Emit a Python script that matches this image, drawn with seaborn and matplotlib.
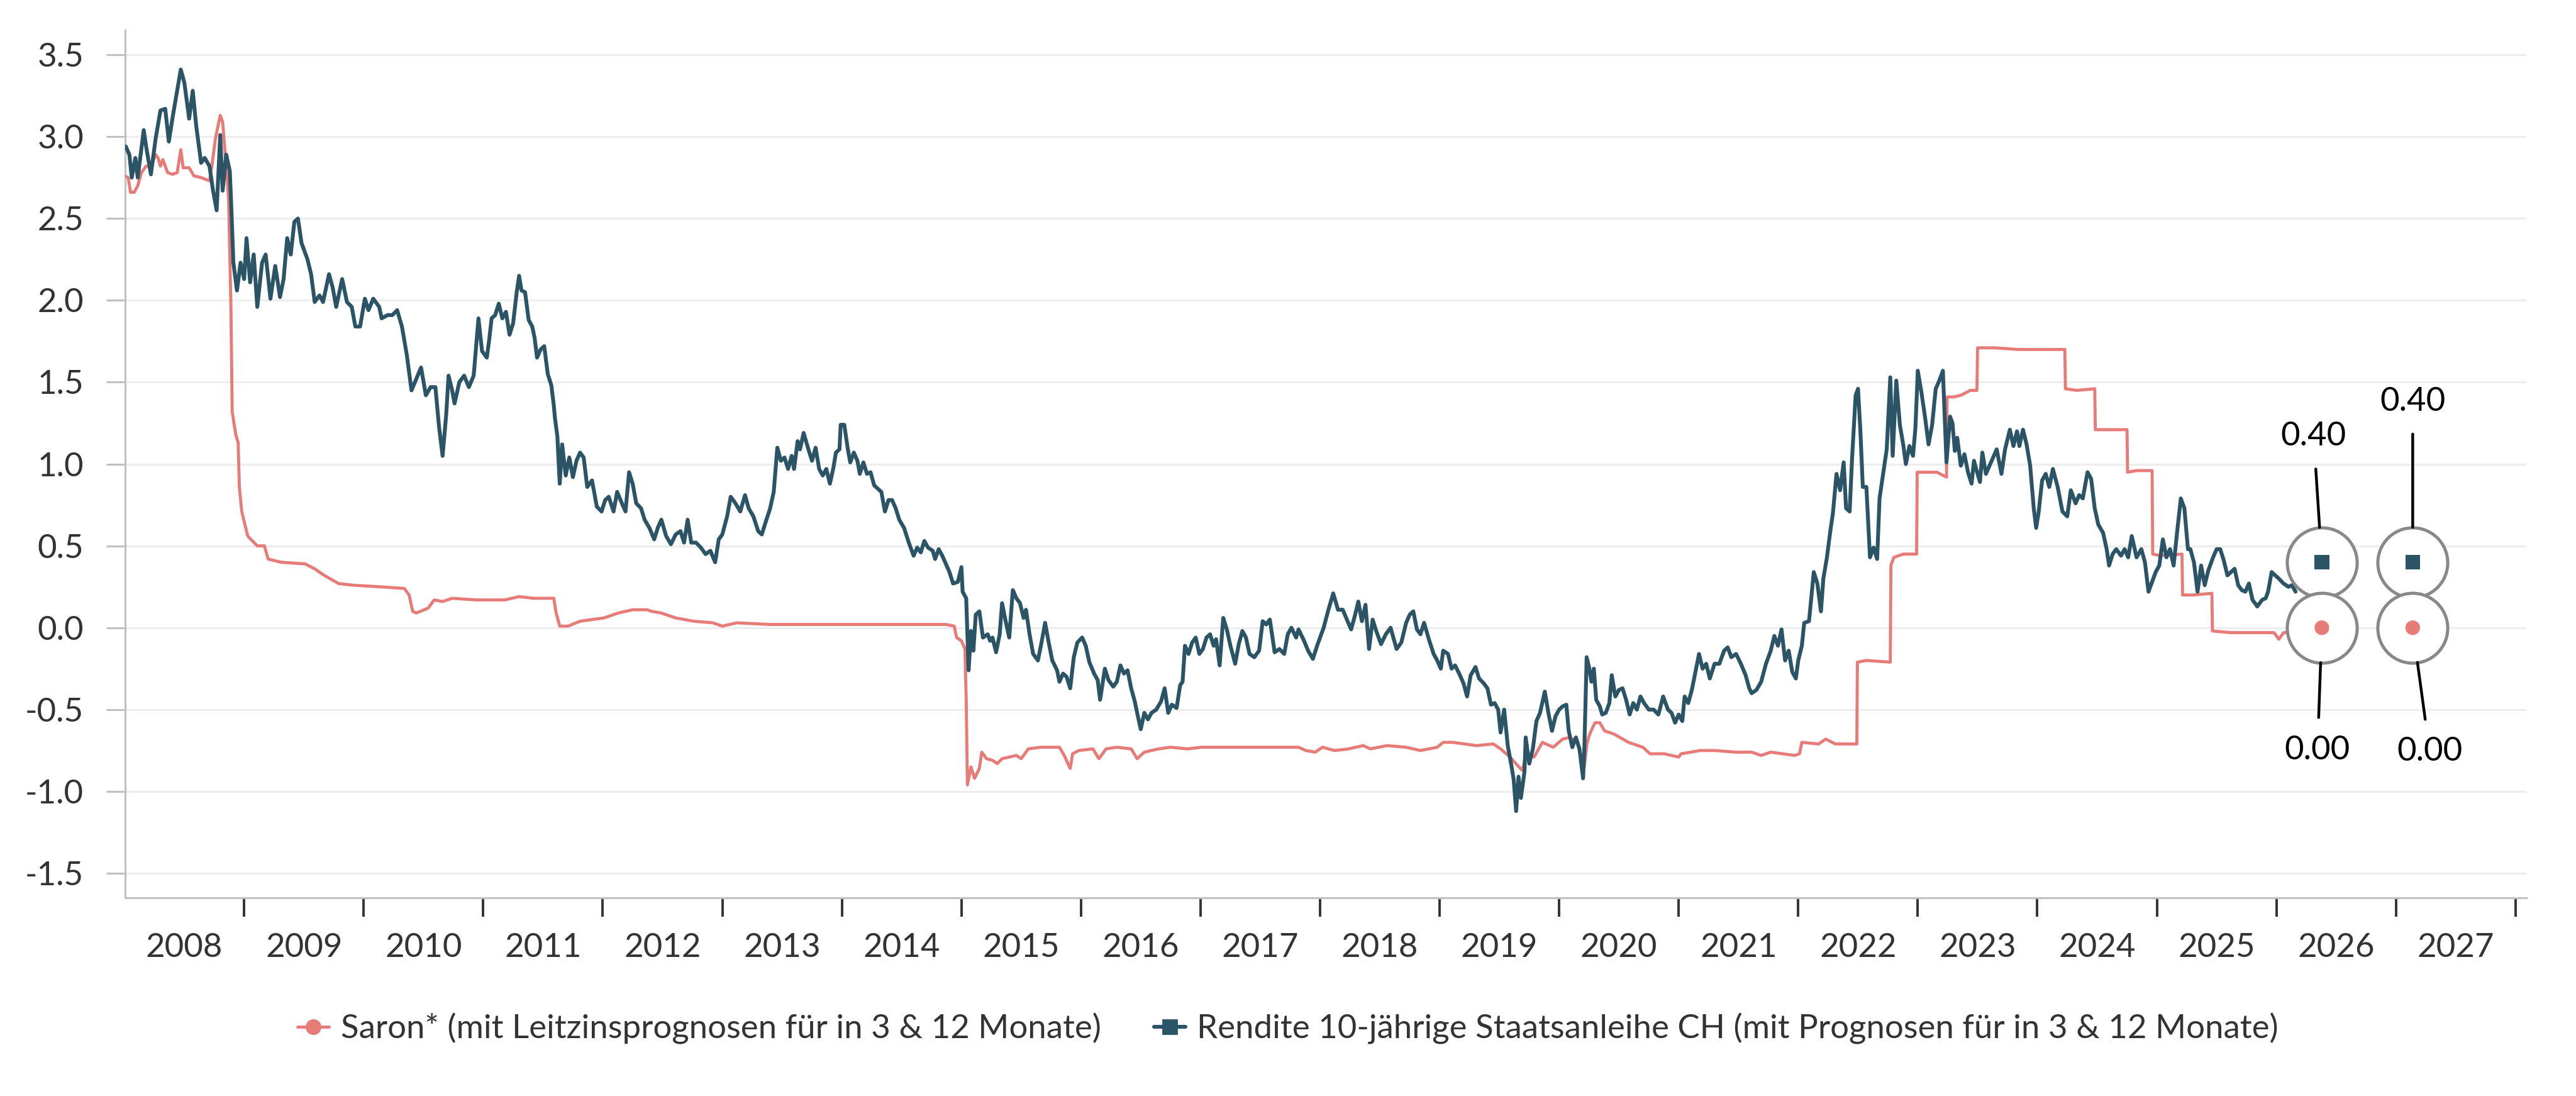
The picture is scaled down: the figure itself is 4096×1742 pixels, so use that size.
import numpy as np
import pandas as pd
import matplotlib.pyplot as plt
import seaborn as sns
from matplotlib.lines import Line2D

sns.set_theme(style="white")
plt.rcParams['font.family'] = ['Lato', 'DejaVu Sans']
plt.rcParams['axes.unicode_minus'] = False

BOND_COLOR = '#2B5566'
SARON_COLOR = '#E67B77'
TEXT_COLOR = '#333333'

# === DATA (decimal years) ===

bond_years = [
    2008.01, 2008.04, 2008.06, 2008.09, 2008.11, 2008.16, 2008.18, 2008.22, 2008.26, 2008.30,
    2008.34, 2008.37, 2008.40, 2008.43, 2008.47, 2008.50, 2008.54, 2008.57, 2008.60, 2008.64,
    2008.67, 2008.71, 2008.74, 2008.77, 2008.80, 2008.82, 2008.85, 2008.88, 2008.89, 2008.91,
    2008.94, 2008.97, 2009.00, 2009.02, 2009.05, 2009.08, 2009.11, 2009.15, 2009.18, 2009.22,
    2009.26, 2009.30, 2009.33, 2009.36, 2009.39, 2009.42, 2009.45, 2009.48, 2009.53, 2009.56,
    2009.59, 2009.63, 2009.66, 2009.71, 2009.74, 2009.77, 2009.82, 2009.86, 2009.90, 2009.93,
    2009.97, 2010.01, 2010.04, 2010.08, 2010.13, 2010.15, 2010.20, 2010.24, 2010.28, 2010.32,
    2010.36, 2010.40, 2010.44, 2010.48, 2010.52, 2010.56, 2010.60, 2010.63, 2010.66, 2010.69,
    2010.71, 2010.74, 2010.76, 2010.80, 2010.84, 2010.88, 2010.92, 2010.96, 2010.99,
    2011.03, 2011.05, 2011.07, 2011.10, 2011.13, 2011.16, 2011.19, 2011.22, 2011.25, 2011.28,
    2011.30, 2011.32, 2011.35, 2011.38, 2011.41, 2011.43, 2011.45, 2011.48, 2011.51, 2011.54,
    2011.57, 2011.59, 2011.60, 2011.62, 2011.64, 2011.66, 2011.69, 2011.72, 2011.75, 2011.78,
    2011.81, 2011.84, 2011.87, 2011.91, 2011.95, 2011.99, 2012.02, 2012.05, 2012.09, 2012.12,
    2012.16, 2012.19, 2012.22, 2012.25, 2012.28, 2012.32, 2012.35, 2012.39, 2012.43, 2012.46,
    2012.49, 2012.53, 2012.57, 2012.61, 2012.65, 2012.68, 2012.71, 2012.74, 2012.78, 2012.82,
    2012.86, 2012.90, 2012.94, 2012.97, 2013.00, 2013.04, 2013.07, 2013.11, 2013.15, 2013.19,
    2013.22, 2013.26, 2013.30, 2013.33, 2013.36, 2013.40, 2013.43, 2013.46, 2013.49, 2013.52,
    2013.55, 2013.58, 2013.60, 2013.63, 2013.65, 2013.68, 2013.72, 2013.75, 2013.78, 2013.81,
    2013.84, 2013.87, 2013.90, 2013.93, 2013.95, 2013.98, 2013.99, 2014.02, 2014.05,
    2014.07, 2014.10, 2014.13, 2014.15, 2014.18, 2014.21, 2014.24, 2014.27, 2014.30, 2014.33,
    2014.36, 2014.39, 2014.42, 2014.45, 2014.48, 2014.52, 2014.56, 2014.60, 2014.63, 2014.66,
    2014.69, 2014.72, 2014.76, 2014.78, 2014.81, 2014.84, 2014.87, 2014.90, 2014.93, 2014.97,
    2015.00, 2015.01, 2015.04, 2015.06, 2015.08, 2015.10, 2015.12, 2015.15, 2015.18, 2015.22,
    2015.24, 2015.26, 2015.29, 2015.32, 2015.34, 2015.37, 2015.40, 2015.43, 2015.46, 2015.49,
    2015.52, 2015.54, 2015.57, 2015.60, 2015.64, 2015.67, 2015.70, 2015.73, 2015.76, 2015.80,
    2015.82, 2015.85, 2015.88, 2015.91, 2015.94, 2015.97, 2016.01, 2016.04, 2016.07, 2016.11,
    2016.14, 2016.16, 2016.20, 2016.23, 2016.27, 2016.30, 2016.33, 2016.36, 2016.39, 2016.42,
    2016.45, 2016.47, 2016.50, 2016.53, 2016.56, 2016.59, 2016.63, 2016.67, 2016.70, 2016.73,
    2016.76, 2016.80, 2016.83, 2016.85, 2016.87, 2016.90, 2016.93, 2016.96, 2016.99, 2017.02,
    2017.05, 2017.08, 2017.11,
    2017.13, 2017.16, 2017.19, 2017.22, 2017.25, 2017.29, 2017.32, 2017.35, 2017.38, 2017.41,
    2017.45, 2017.49, 2017.52, 2017.55, 2017.58, 2017.62, 2017.66, 2017.70, 2017.73, 2017.76,
    2017.80, 2017.82, 2017.86, 2017.90, 2017.94, 2017.98, 2018.03, 2018.07, 2018.11, 2018.15,
    2018.19, 2018.23, 2018.26, 2018.29, 2018.32, 2018.35, 2018.38, 2018.41, 2018.44, 2018.47,
    2018.51, 2018.55, 2018.59, 2018.64, 2018.68, 2018.72, 2018.75, 2018.78, 2018.81, 2018.84,
    2018.87, 2018.91, 2018.95, 2018.98, 2019.01, 2019.03, 2019.07, 2019.10, 2019.13, 2019.17,
    2019.20, 2019.23, 2019.26, 2019.30, 2019.33, 2019.37, 2019.40, 2019.43, 2019.46, 2019.49,
    2019.51, 2019.54, 2019.57, 2019.60, 2019.62, 2019.64, 2019.66, 2019.68, 2019.71, 2019.72,
    2019.75, 2019.78, 2019.81, 2019.84, 2019.88, 2019.91, 2019.94, 2019.97, 2020.00, 2020.03,
    2020.06, 2020.08, 2020.11, 2020.14, 2020.17, 2020.20, 2020.21,
    2020.23, 2020.25, 2020.27, 2020.29, 2020.31, 2020.34, 2020.36, 2020.39, 2020.42, 2020.44,
    2020.47, 2020.50, 2020.53, 2020.56, 2020.59, 2020.62, 2020.65, 2020.68, 2020.71, 2020.75,
    2020.79, 2020.83, 2020.87, 2020.91, 2020.94, 2020.97, 2021.00, 2021.03, 2021.05, 2021.08,
    2021.11, 2021.14, 2021.17, 2021.20, 2021.23, 2021.26, 2021.30, 2021.34, 2021.38, 2021.41,
    2021.44, 2021.48, 2021.52, 2021.56, 2021.59, 2021.61, 2021.65, 2021.69, 2021.73, 2021.77,
    2021.80, 2021.83, 2021.86, 2021.89, 2021.92, 2021.95, 2021.98, 2022.00, 2022.03, 2022.05,
    2022.09, 2022.13, 2022.16, 2022.19, 2022.21, 2022.24, 2022.27, 2022.29, 2022.32, 2022.35,
    2022.38, 2022.40, 2022.43, 2022.45, 2022.48, 2022.50, 2022.52, 2022.54, 2022.57, 2022.60,
    2022.63, 2022.66, 2022.68, 2022.71, 2022.74, 2022.77, 2022.79, 2022.82, 2022.85, 2022.88,
    2022.90, 2022.93, 2022.96, 2022.98, 2023.00, 2023.03, 2023.06, 2023.09, 2023.12, 2023.15,
    2023.18, 2023.21, 2023.24,
    2023.27, 2023.29, 2023.31, 2023.33, 2023.36, 2023.39, 2023.42, 2023.45, 2023.47, 2023.50,
    2023.52, 2023.54, 2023.57, 2023.60, 2023.63, 2023.66, 2023.70, 2023.73, 2023.77, 2023.80,
    2023.83, 2023.85, 2023.88, 2023.91, 2023.94, 2023.97, 2023.99, 2024.01, 2024.04, 2024.07,
    2024.10, 2024.13, 2024.17, 2024.21, 2024.25, 2024.28, 2024.32, 2024.35, 2024.38, 2024.42,
    2024.45, 2024.48, 2024.51, 2024.55, 2024.58, 2024.60, 2024.63, 2024.66, 2024.70, 2024.73,
    2024.76, 2024.79, 2024.83, 2024.87, 2024.90, 2024.93, 2024.96, 2024.99, 2025.02, 2025.05,
    2025.08, 2025.11, 2025.14, 2025.17, 2025.20, 2025.23, 2025.26, 2025.28, 2025.31, 2025.34,
    2025.37, 2025.40, 2025.43, 2025.47, 2025.50, 2025.53, 2025.56, 2025.59, 2025.62, 2025.65,
    2025.68, 2025.71, 2025.74, 2025.77, 2025.80, 2025.84, 2025.88, 2025.91, 2025.93, 2025.96,
    2025.99, 2026.02, 2026.06, 2026.10, 2026.13, 2026.16,
]
bond_values = [
    2.94, 2.89, 2.75, 2.87, 2.75, 3.04, 2.94, 2.77, 2.99, 3.16,
    3.17, 2.97, 3.11, 3.24, 3.41, 3.33, 3.11, 3.28, 3.06, 2.84,
    2.87, 2.82, 2.67, 2.55, 3.01, 2.67, 2.89, 2.79, 2.62, 2.23,
    2.06, 2.23, 2.13, 2.38, 2.11, 2.28, 1.96, 2.23, 2.28, 2.01,
    2.21, 2.02, 2.13, 2.38, 2.28, 2.48, 2.50, 2.35, 2.25, 2.16,
    1.99, 2.03, 1.99, 2.16, 2.08, 1.96, 2.13, 1.99, 1.96, 1.84,
    1.84, 2.01, 1.94, 2.01, 1.96, 1.89, 1.91, 1.91, 1.94, 1.84,
    1.67, 1.45, 1.52, 1.59, 1.42, 1.47, 1.47, 1.23, 1.05, 1.30,
    1.54, 1.45, 1.37, 1.50, 1.54, 1.47, 1.54, 1.89, 1.69,
    1.65, 1.76, 1.89, 1.91, 1.98, 1.89, 1.93, 1.79, 1.86, 2.05,
    2.15, 2.06, 2.05, 1.88, 1.84, 1.77, 1.65, 1.70, 1.72, 1.55,
    1.48, 1.36, 1.28, 1.17, 0.88, 1.12, 0.93, 1.04, 0.92, 1.02,
    1.07, 1.04, 0.86, 0.90, 0.74, 0.71, 0.78, 0.80, 0.71, 0.83,
    0.76, 0.71, 0.95, 0.88, 0.76, 0.73, 0.66, 0.61, 0.54, 0.61,
    0.66, 0.56, 0.51, 0.57, 0.59, 0.52, 0.66, 0.52, 0.52, 0.49,
    0.45, 0.47, 0.40, 0.54, 0.57, 0.68, 0.80, 0.76, 0.71, 0.81,
    0.73, 0.68, 0.59, 0.57, 0.64, 0.73, 0.83, 1.10, 1.02, 1.04,
    0.97, 1.05, 0.97, 1.14, 1.09, 1.19, 1.09, 1.02, 1.10, 0.97,
    0.93, 0.97, 0.88, 0.98, 1.07, 1.09, 1.24, 1.24, 1.09,
    1.01, 1.07, 1.02, 0.94, 1.01, 0.94, 0.95, 0.87, 0.85, 0.83,
    0.71, 0.78, 0.78, 0.73, 0.66, 0.61, 0.52, 0.44, 0.49, 0.46,
    0.53, 0.49, 0.47, 0.42, 0.48, 0.44, 0.39, 0.34, 0.27, 0.28,
    0.37, 0.22, 0.18, -0.26, -0.02, -0.14, 0.08, 0.10, -0.06, -0.04,
    -0.08, -0.06, -0.15, -0.04, 0.15, 0.04, -0.06, 0.23, 0.18, 0.15,
    0.06, 0.11, -0.04, -0.16, -0.20, -0.09, 0.03, -0.09, -0.20, -0.26,
    -0.33, -0.28, -0.30, -0.37, -0.18, -0.09, -0.06, -0.11, -0.21, -0.28,
    -0.32, -0.44, -0.25, -0.32, -0.36, -0.33, -0.23, -0.28, -0.26, -0.37,
    -0.45, -0.52, -0.62, -0.52, -0.56, -0.52, -0.50, -0.45, -0.37, -0.52,
    -0.47, -0.49, -0.35, -0.33, -0.11, -0.16, -0.09, -0.06, -0.16, -0.13,
    -0.06, -0.04, -0.11,
    -0.07, -0.23, 0.06, -0.01, -0.11, -0.22, -0.10, -0.02, -0.06, -0.16,
    -0.18, -0.14, 0.04, 0.02, 0.05, -0.15, -0.13, -0.16, -0.04, 0.00,
    -0.06, -0.01, -0.07, -0.14, -0.19, -0.10, 0.00, 0.11, 0.21, 0.11,
    0.11, 0.04, -0.01, 0.07, 0.16, 0.04, 0.14, -0.13, 0.05, -0.02,
    -0.10, -0.04, 0.00, -0.13, -0.09, 0.03, 0.08, 0.10, -0.01, -0.04,
    0.03, -0.07, -0.16, -0.20, -0.25, -0.14, -0.16, -0.25, -0.23, -0.29,
    -0.34, -0.42, -0.29, -0.24, -0.31, -0.34, -0.37, -0.47, -0.46, -0.50,
    -0.64, -0.50, -0.72, -0.84, -0.93, -1.12, -0.91, -1.04, -0.88, -0.67,
    -0.83, -0.74, -0.57, -0.52, -0.39, -0.52, -0.63, -0.54, -0.50, -0.48,
    -0.47, -0.63, -0.73, -0.67, -0.74, -0.92, -0.76,
    -0.18, -0.24, -0.33, -0.25, -0.44, -0.48, -0.53, -0.52, -0.46, -0.29,
    -0.42, -0.38, -0.37, -0.44, -0.53, -0.46, -0.50, -0.42, -0.46, -0.50,
    -0.50, -0.53, -0.42, -0.50, -0.52, -0.58, -0.53, -0.57, -0.42, -0.46,
    -0.38, -0.27, -0.16, -0.25, -0.22, -0.31, -0.22, -0.22, -0.14, -0.12,
    -0.18, -0.16, -0.22, -0.29, -0.37, -0.40, -0.38, -0.33, -0.22, -0.14,
    -0.05, -0.11, -0.01, -0.20, -0.14, -0.27, -0.31, -0.20, -0.11, 0.03,
    0.04, 0.34, 0.27, 0.10, 0.30, 0.43, 0.60, 0.70, 0.94, 0.84,
    1.01, 0.73, 0.71, 1.03, 1.42, 1.46, 1.20, 0.86, 0.86, 0.43,
    0.49, 0.42, 0.79, 0.94, 1.09, 1.53, 1.05, 1.51, 1.24, 1.11,
    1.00, 1.11, 1.05, 1.22, 1.57, 1.44, 1.29, 1.12, 1.24, 1.46,
    1.51, 1.57, 1.01,
    1.29, 1.25, 1.08, 1.16, 0.99, 1.06, 0.95, 0.88, 1.02, 0.94,
    0.89, 1.07, 0.94, 0.99, 1.04, 1.09, 0.94, 1.09, 1.21, 1.11,
    1.20, 1.11, 1.21, 1.12, 0.99, 0.73, 0.61, 0.70, 0.90, 0.94,
    0.86, 0.97, 0.86, 0.71, 0.68, 0.84, 0.76, 0.81, 0.79, 0.95,
    0.91, 0.73, 0.63, 0.58, 0.48, 0.38, 0.45, 0.48, 0.44, 0.48,
    0.43, 0.56, 0.43, 0.48, 0.40, 0.22, 0.28, 0.34, 0.38, 0.54,
    0.43, 0.48, 0.38, 0.59, 0.79, 0.73, 0.48, 0.48, 0.40, 0.22,
    0.38, 0.26, 0.35, 0.43, 0.48, 0.48, 0.41, 0.32, 0.34, 0.36,
    0.26, 0.23, 0.22, 0.27, 0.17, 0.13, 0.17, 0.18, 0.22, 0.34,
    0.32, 0.30, 0.27, 0.25, 0.26, 0.22,
]

saron_years = [
    2008.00, 2008.03, 2008.05, 2008.08, 2008.11, 2008.14, 2008.18, 2008.22, 2008.26, 2008.28,
    2008.30, 2008.32, 2008.36, 2008.40, 2008.44, 2008.47, 2008.49, 2008.54, 2008.58, 2008.64,
    2008.71, 2008.73, 2008.76, 2008.80, 2008.82, 2008.85, 2008.87, 2008.89, 2008.90, 2008.93,
    2008.95, 2008.96, 2008.98, 2009.03, 2009.11, 2009.17, 2009.20, 2009.31, 2009.51, 2009.59,
    2009.67, 2009.79, 2009.91, 2010.14, 2010.34, 2010.38, 2010.41, 2010.44, 2010.54, 2010.59,
    2010.66, 2010.74, 2010.94,
    2011.18, 2011.30, 2011.42, 2011.59, 2011.61, 2011.64, 2011.71, 2011.81, 2011.91, 2012.01,
    2012.13, 2012.25, 2012.37, 2012.41, 2012.49, 2012.61, 2012.76, 2012.92, 2013.00, 2013.12,
    2013.40, 2013.80,
    2014.07, 2014.27, 2014.63, 2014.87, 2014.94, 2014.96, 2015.00, 2015.03, 2015.04, 2015.05,
    2015.08, 2015.11, 2015.15, 2015.17, 2015.21, 2015.26, 2015.30, 2015.34, 2015.46, 2015.50,
    2015.56, 2015.66, 2015.82, 2015.86, 2015.91, 2015.93, 2015.98, 2016.10, 2016.15, 2016.21,
    2016.30, 2016.42, 2016.47, 2016.53, 2016.65, 2016.75, 2016.89, 2017.01,
    2017.33, 2017.53, 2017.82, 2017.88, 2017.96, 2018.02, 2018.12, 2018.24, 2018.36, 2018.42,
    2018.56, 2018.72, 2018.84, 2018.98, 2019.03, 2019.11, 2019.21, 2019.31, 2019.45, 2019.51,
    2019.59, 2019.65, 2019.69, 2019.73, 2019.79, 2019.86, 2019.95, 2020.03, 2020.09, 2020.15,
    2020.20,
    2020.21, 2020.23, 2020.25, 2020.28, 2020.30, 2020.34, 2020.38, 2020.46, 2020.58, 2020.70,
    2020.76, 2020.88, 2021.00, 2021.02, 2021.18, 2021.30, 2021.48, 2021.61, 2021.69, 2021.77,
    2021.97, 2022.01, 2022.03, 2022.17, 2022.23, 2022.31, 2022.49, 2022.495, 2022.57, 2022.77,
    2022.775, 2022.80, 2022.88, 2022.99, 2022.995, 2023.04, 2023.16, 2023.24, 2023.245,
    2023.30, 2023.36, 2023.44, 2023.495, 2023.50, 2023.64, 2023.84, 2024.04, 2024.23, 2024.235,
    2024.33, 2024.48, 2024.485, 2024.63, 2024.75, 2024.755, 2024.83, 2024.96, 2024.965, 2025.03,
    2025.21, 2025.215, 2025.30, 2025.46, 2025.465, 2025.62, 2025.82, 2025.98, 2026.02, 2026.06,
    2026.10, 2026.16,
]
saron_values = [
    2.76, 2.75, 2.66, 2.66, 2.70, 2.78, 2.82, 2.82, 2.89, 2.87,
    2.82, 2.86, 2.78, 2.77, 2.78, 2.92, 2.81, 2.81, 2.76, 2.75,
    2.73, 2.82, 2.99, 3.13, 3.09, 2.82, 2.62, 1.94, 1.32, 1.18,
    1.13, 0.86, 0.71, 0.56, 0.50, 0.50, 0.42, 0.40, 0.39, 0.36,
    0.32, 0.27, 0.26, 0.25, 0.24, 0.20, 0.10, 0.09, 0.12, 0.17,
    0.16, 0.18, 0.17,
    0.17, 0.19, 0.18, 0.18, 0.09, 0.01, 0.01, 0.04, 0.05, 0.06,
    0.09, 0.11, 0.11, 0.10, 0.09, 0.06, 0.04, 0.03, 0.01, 0.03,
    0.02, 0.02,
    0.02, 0.02, 0.02, 0.02, 0.01, -0.06, -0.08, -0.13, -0.44, -0.96,
    -0.85, -0.92, -0.86, -0.76, -0.80, -0.81, -0.83, -0.80, -0.78, -0.80,
    -0.74, -0.73, -0.73, -0.78, -0.86, -0.77, -0.75, -0.74, -0.80, -0.74,
    -0.73, -0.74, -0.80, -0.76, -0.74, -0.73, -0.74, -0.73,
    -0.73, -0.73, -0.73, -0.75, -0.76, -0.73, -0.75, -0.74, -0.72, -0.74,
    -0.72, -0.73, -0.75, -0.73, -0.70, -0.70, -0.71, -0.72, -0.71, -0.74,
    -0.79, -0.84, -0.87, -0.77, -0.79, -0.70, -0.73, -0.68, -0.67, -0.70,
    -0.82,
    -0.85, -0.72, -0.66, -0.61, -0.58, -0.58, -0.63, -0.65, -0.70, -0.73,
    -0.77, -0.77, -0.79, -0.77, -0.75, -0.75, -0.76, -0.76, -0.78, -0.76,
    -0.78, -0.77, -0.70, -0.71, -0.68, -0.71, -0.71, -0.21, -0.20, -0.21,
    0.38, 0.43, 0.45, 0.45, 0.95, 0.95, 0.95, 0.92, 1.41,
    1.41, 1.42, 1.45, 1.45, 1.71, 1.71, 1.70, 1.70, 1.70, 1.46,
    1.45, 1.46, 1.21, 1.21, 1.21, 0.95, 0.96, 0.96, 0.45, 0.44,
    0.45, 0.20, 0.20, 0.21, -0.02, -0.03, -0.03, -0.03, -0.07, -0.03,
    -0.03, -0.06,
]

# forecasts in 3 and 12 months
forecast_years = [2026.38, 2027.14]
bond_forecast = [0.40, 0.40]
saron_forecast = [0.00, 0.00]

year_labels = [str(y) for y in range(2008, 2028)]
y_ticks = [-1.5, -1.0, -0.5, 0.0, 0.5, 1.0, 1.5, 2.0, 2.5, 3.0, 3.5]

saron_label = "Saron* (mit Leitzinsprognosen für in 3 & 12 Monate)"
bond_label = "Rendite 10-jährige Staatsanleihe CH (mit Prognosen für in 3 & 12 Monate)"

bond_df = pd.DataFrame({"year": bond_years, "value": bond_values})
saron_df = pd.DataFrame({"year": saron_years, "value": saron_values})
fc_df = pd.DataFrame({"year": forecast_years, "bond": bond_forecast, "saron": saron_forecast})

# === PLOT ===

fig = plt.figure(figsize=(20.48, 8.71), dpi=200)
ax = fig.add_axes([0.0486, 0.1808, 0.9321, 0.7916])

sns.lineplot(data=saron_df, x="year", y="value", color=SARON_COLOR, lw=1.75,
             estimator=None, sort=False, ax=ax, zorder=3)
sns.lineplot(data=bond_df, x="year", y="value", color=BOND_COLOR, lw=2.2,
             estimator=None, sort=False, ax=ax, zorder=4)

# forecast points with grey rings
for col in ["bond", "saron"]:
    ax.scatter(fc_df["year"], fc_df[col], s=1600, facecolors="white",
               edgecolors="#888888", linewidths=1.8, zorder=5)
sns.scatterplot(data=fc_df, x="year", y="bond", marker="s", s=70, color=BOND_COLOR,
                edgecolor="none", ax=ax, zorder=6)
sns.scatterplot(data=fc_df, x="year", y="saron", marker="o", s=70, color=SARON_COLOR,
                edgecolor="none", ax=ax, zorder=6)

# data labels with connectors
label_offsets = {
    ("bond", 0): (-4.7, 72), ("bond", 1): (0, 92),
    ("saron", 0): (-2.5, -70), ("saron", 1): (9.7, -71),
}
for (col, i), (dx, dy) in label_offsets.items():
    val = fc_df[col][i]
    ax.annotate(f"{val:.2f}", xy=(fc_df["year"][i], val), xytext=(dx, dy),
                textcoords="offset points", ha="center", va="center",
                fontsize=19, color="black", zorder=7,
                arrowprops=dict(arrowstyle="-", color="black", lw=1.6,
                                shrinkA=8, shrinkB=20))

# axes styling
ax.set_xlim(2008.005, 2028.09)
ax.set_ylim(-1.65, 3.65)
ax.set_yticks(y_ticks)
ax.set_yticklabels([f"{v:.1f}" for v in y_ticks])
ax.set_xticks(range(2009, 2029))
ax.set_xticklabels([])
ax.set_xticks([y + 0.5 for y in range(2008, 2028)], minor=True)
ax.set_xticklabels(year_labels, minor=True)

ax.yaxis.grid(True, color="#EDEDED", lw=1.1)
ax.xaxis.grid(False)
ax.set_axisbelow(True)

ax.tick_params(axis="x", which="major", length=10.8, width=1.4, color=TEXT_COLOR,
               direction="out", bottom=True)
ax.tick_params(axis="x", which="minor", length=0, pad=20, labelsize=19,
               labelcolor=TEXT_COLOR)
ax.tick_params(axis="y", length=10.8, width=1.1, color="#C0C0C0", direction="out",
               left=True, pad=13, labelsize=19, labelcolor=TEXT_COLOR)

for side in ["top", "right"]:
    ax.spines[side].set_visible(False)
for side in ["left", "bottom"]:
    ax.spines[side].set_color("#C0C0C0")
    ax.spines[side].set_linewidth(1.1)

ax.set_xlabel("")
ax.set_ylabel("")

handles = [
    Line2D([], [], color=SARON_COLOR, lw=1.75, marker="o", markersize=8),
    Line2D([], [], color=BOND_COLOR, lw=2.2, marker="s", markersize=8),
]
fig.legend(handles, [saron_label, bond_label], loc="center",
           bbox_to_anchor=(0.5, 0.0614), ncol=2, frameon=False, fontsize=19,
           handlelength=0.95, handletextpad=0.35, columnspacing=1.6,
           labelcolor=TEXT_COLOR)

fig.savefig("out.png", dpi=200)
